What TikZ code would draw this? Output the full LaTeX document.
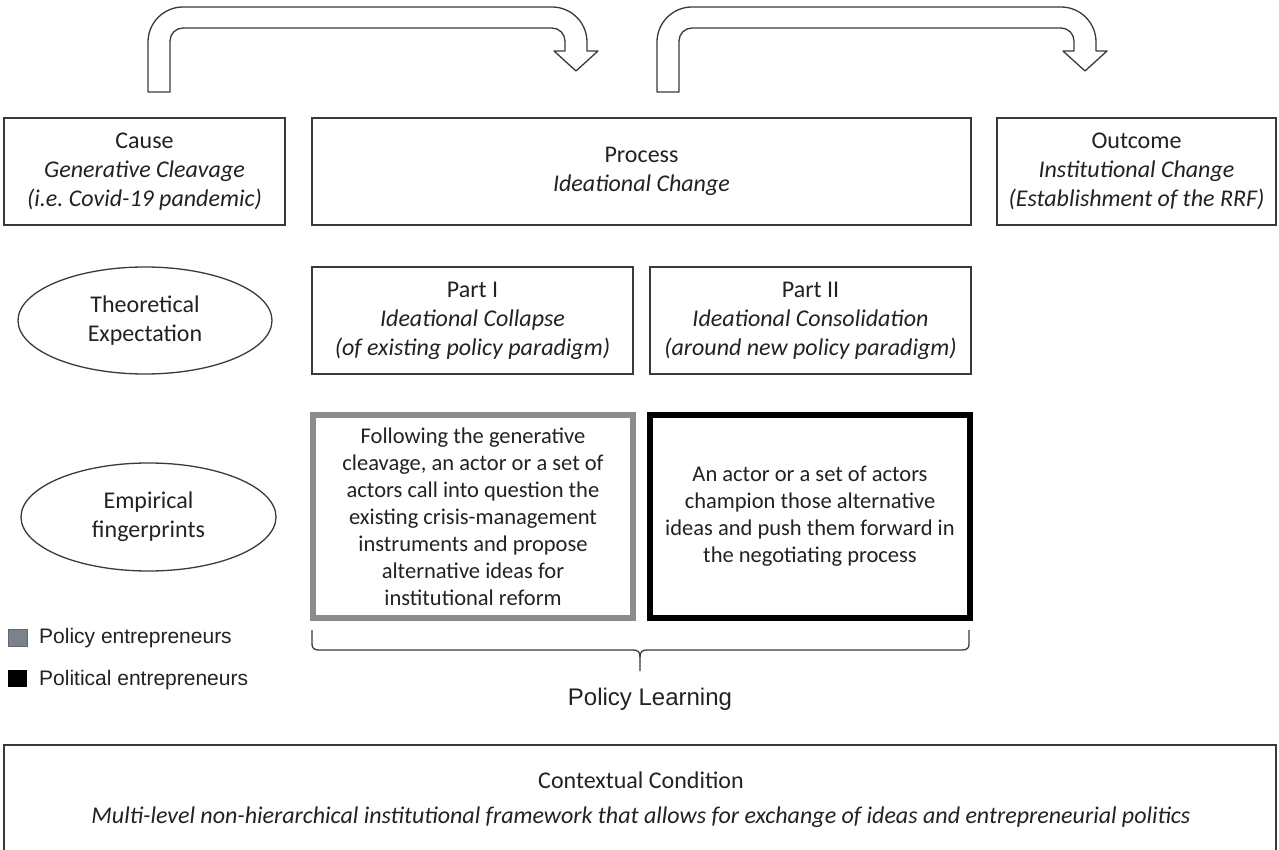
\documentclass[tikz,border=0pt]{standalone}
\usepackage{fontspec}
\setmainfont{Carlito}
\newfontfamily\arialf{Liberation Sans}
\usetikzlibrary{shapes.geometric}
\frenchspacing
\definecolor{txt}{HTML}{222222}
\definecolor{edge}{HTML}{3A3A3A}
\definecolor{greyb}{HTML}{8C8C8C}
\definecolor{leggrey}{HTML}{7C828C}
\tikzset{
  box/.style={draw=edge, line width=1.3pt, text=txt, align=center, inner sep=0pt,
    font=\fontsize{24}{29}\selectfont},
  oval/.style={draw=edge, line width=1.3pt, ellipse, text=txt, align=center, inner sep=0pt,
    font=\fontsize{24}{29}\selectfont},
  fbox/.style={line width=6pt, text=txt, align=center, inner sep=0pt,
    minimum width=320pt, minimum height=203pt, font=\fontsize{22.5}{27}\selectfont},
  bent/.style={draw=edge, line width=1.3pt, fill=white, line join=round},
  legtext/.style={anchor=west, text=txt, inner sep=0pt, font=\arialf\fontsize{21}{24}\selectfont},
  legsq/.style={minimum width=19pt, minimum height=17pt, inner sep=0pt}
}
\begin{document}
\begin{tikzpicture}[x=1pt,y=-1pt]
\path[use as bounding box] (0,0) rectangle (1279,850);
\clip (0,0) rectangle (1279,850);
\fill[white] (0,0) rectangle (1279,850);

% bent arrows
\foreach \dx in {0,509}{
\begin{scope}[xshift=\dx pt]
\draw[bent] (148,92) -- (148,42) .. controls (148,22.7) and (163.7,7) .. (183,7)
  -- (552,7) .. controls (571.3,7) and (587,22.7) .. (587,42)
  -- (587,51) -- (598,51) -- (576,71) -- (554,51) -- (565,51) -- (565,41)
  .. controls (565,33.8) and (559.2,28) .. (552,28)
  -- (183,28) .. controls (175.8,28) and (170,33.8) .. (170,41)
  -- (170,92) -- cycle;
\end{scope}}

% top row
\node[box, minimum width=281pt, minimum height=107pt] (cause) at (144.5,171.5)
  {Cause\\\textit{Generative Cleavage}\\\textit{(i.e. Covid-19 pandemic)}};
\node[box, minimum width=659pt, minimum height=107pt] (process) at (641.5,171.5)
  {Process\\\textit{Ideational Change}};
\node[box, minimum width=279pt, minimum height=107pt] (outcome) at (1136.5,171.5)
  {Outcome\\\textit{Institutional Change}\\\textit{(Establishment of the RRF)}};

% second row
\node[oval, minimum width=254pt, minimum height=107pt] (theo) at (145,320.5)
  {Theoretical\\Expectation};
\node[box, minimum width=321pt, minimum height=107pt] (part1) at (472.5,320.5)
  {Part I\\\textit{Ideational Collapse}\\\textit{(of existing policy paradigm)}};
\node[box, minimum width=321pt, minimum height=107pt] (part2) at (810.5,320.5)
  {Part II\\\textit{Ideational Consolidation}\\\textit{(around new policy paradigm)}};

% third row
\node[oval, minimum width=255pt, minimum height=108pt] (emp) at (148.5,517)
  {Empirical\\fingerprints};
\node[fbox, draw=greyb] (policy) at (473,516.5)
  {Following the generative\\cleavage, an actor or a set of\\actors call into question the\\existing crisis-management\\instruments and propose\\alternative ideas for\\institutional reform};
\node[fbox, draw=black] (political) at (810,516.5)
  {An actor or a set of actors\\champion those alternative\\ideas and push them forward in\\the negotiating process};

% brace
\coordinate (bl) at (312,630);
\coordinate (br) at (969,630);
\coordinate (btip) at (640,671);
\draw[edge, line width=1.3pt] (bl) -- (312,644) .. controls (312,648) and (314,650) .. (319,650)
  -- (633,650) .. controls (638,650) and (640,652) .. (640,657) -- (btip);
\draw[edge, line width=1.3pt] (br) -- (969,644) .. controls (969,648) and (967,650) .. (962,650)
  -- (647,650) .. controls (642,650) and (640,652) .. (640,657);
\node[text=txt, inner sep=0pt, font=\arialf\fontsize{24}{28}\selectfont] (learning) at (650,699) {Policy Learning};

% legend
\node[legsq, fill=leggrey, draw=leggrey!80!black, line width=0.6pt] (sq1) at (17.5,637.5) {};
\node[legtext] (l1) at (39,638) {Policy entrepreneurs};
\node[legsq, fill=black] (sq2) at (17.5,678.5) {};
\node[legtext] (l2) at (39,680) {Political entrepreneurs};

% context box
\node[box, minimum width=1272pt, minimum height=140pt] (ctx) at (640,815) {};
\node[text=txt, align=center, inner sep=0pt, font=\fontsize{24}{35}\selectfont] (ctxt) at (641,799.5)
  {Contextual Condition\\\textit{Multi-level non-hierarchical institutional framework that allows for exchange of ideas and entrepreneurial politics}};
\end{tikzpicture}
\end{document}
